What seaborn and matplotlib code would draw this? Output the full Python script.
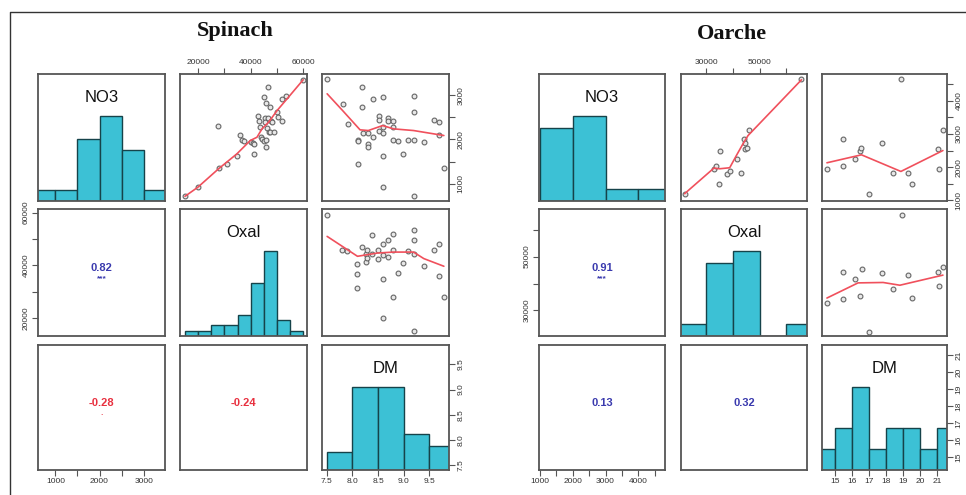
import numpy as np
import pandas as pd
import matplotlib
matplotlib.use("Agg")
import matplotlib.pyplot as plt
import seaborn as sns
from matplotlib.lines import Line2D

# ======================================
# Configuration
# ======================================

FIG_W = 966
FIG_H = 495
OUT_PATH = "out.png"

BAR = "#3CC1D5"
BAR_EDGE = "#16434A"
FRAME = "#555555"
POINT_FILL = "#e8e8e8"
POINT_EDGE = "#666666"
SMOOTH = "#F0505C"
POS_COLOR = "#3A3AAE"
NEG_COLOR = "#E8303F"
TICK_COLOR = "#333333"

VAR_NAMES = ["NO3", "Oxal", "DM"]

# panel boxes in pixels (x0, x1) / (y0, y1)
ROWS_Y = [(74, 201), (209, 336), (345, 470)]
SPINACH_COLS_X = [(38, 165), (180, 307), (322, 449)]
OARCHE_COLS_X = [(539, 665), (681, 807), (822, 947)]


# ======================================
# Spinach data
# ======================================

sp_no3_bins = [500, 1000, 1500, 2000, 2500, 3000, 3500]
sp_no3_counts = [2, 2, 11, 15, 9, 2]
sp_oxal_bins = [15000, 20000, 25000, 30000, 35000, 40000, 45000, 50000, 55000, 60000]
sp_oxal_counts = [1, 1, 2, 2, 4, 10, 16, 3, 1]
sp_dm_bins = [7.5, 8.0, 8.5, 9.0, 9.5, 10.0]
sp_dm_counts = [3, 14, 14, 6, 4]

sp_oxal_no3_x = [15050, 19900, 27740, 28100, 31160, 34740, 36000, 36650, 37260, 40080,
                 40700, 41340, 41340, 42750, 43240, 43620, 44000, 44270, 44880, 45150,
                 45260, 45530, 45800, 45910, 45910, 46170, 46400, 46670, 46790, 47430,
                 47700, 47430, 48700, 48080, 50000, 50370, 51900, 52000, 53400, 59900]
sp_oxal_no3_y = [727, 916, 2300, 1347, 1447, 1636, 2112, 1992, 1960, 1953,
                 1923, 1674, 1901, 2537, 2414, 2278, 2055, 2000, 1976, 2960,
                 2490, 2396, 1840, 2830, 1992, 2264, 2490, 3186, 2165, 2740,
                 2430, 2165, 2165, 2396, 2623, 2510, 2430, 2923, 2982, 3354]
sp_oxal_no3_fit_x = [15050, 19900, 27740, 34740, 39810, 42360, 44270, 46790, 50000, 53800, 59900]
sp_oxal_no3_fit_y = [712, 916, 1333, 1674, 1976, 2051, 2241, 2392, 2657, 2923, 3354]

sp_dm_no3_x = [7.51, 7.81, 7.91, 8.11, 8.11, 8.11, 8.19, 8.19, 8.20, 8.30,
               8.30, 8.31, 8.40, 8.41, 8.51, 8.51, 8.51, 8.59, 8.59, 8.59,
               8.59, 8.59, 8.69, 8.70, 8.80, 8.80, 8.80, 8.89, 8.98, 9.09,
               9.19, 9.19, 9.19, 9.19, 9.39, 9.58, 9.68, 9.68, 9.78]
sp_dm_no3_y = [3361, 2809, 2355, 1999, 1960, 1447, 3186, 2732, 2150, 1901,
               1824, 2150, 2055, 2907, 2528, 2453, 2188, 2963, 2294, 2150,
               1636, 916, 2483, 2408, 2430, 2294, 1992, 1960, 1674, 1999,
               2982, 2634, 1992, 727, 1953, 2445, 2396, 2108, 1347]
sp_dm_no3_fit_x = [7.51, 7.81, 8.15, 8.31, 8.59, 8.80, 9.19, 9.78]
sp_dm_no3_fit_y = [3036, 2657, 2219, 2203, 2316, 2241, 2203, 2090]

sp_dm_oxal_x = [7.51, 7.80, 7.89, 8.10, 8.10, 8.10, 8.19, 8.27, 8.27, 8.29,
                8.29, 8.39, 8.39, 8.49, 8.50, 8.59, 8.59, 8.59, 8.59, 8.69,
                8.69, 8.80, 8.80, 8.80, 8.89, 8.99, 9.09, 9.19, 9.19, 9.19,
                9.19, 9.39, 9.58, 9.68, 9.68, 9.78]
sp_dm_oxal_y = [59250, 45660, 45280, 40640, 36600, 31200, 46910, 44420, 41250, 45660,
                42760, 51320, 44420, 45930, 42530, 48190, 43780, 34600, 20110, 49700,
                43130, 51700, 45930, 27810, 37100, 40870, 45400, 53200, 49700, 44420,
                15200, 39620, 45660, 47930, 35850, 28040]
sp_dm_oxal_fit_x = [7.51, 8.10, 8.49, 8.80, 9.19, 9.39, 9.78]
sp_dm_oxal_fit_y = [50950, 43400, 44640, 45000, 45000, 42530, 39620]

sp_cor = [0.82, -0.28, -0.24]
sp_stars = ["***", ".", ""]


# ======================================
# Oarche data
# ======================================

oa_no3_bins = [1000, 2000, 3000, 4000, 5000]
oa_no3_counts = [6, 7, 1, 1]
oa_oxal_bins = [20000, 30000, 40000, 50000, 60000, 70000]
oa_oxal_counts = [1, 6, 7, 0, 1]
oa_dm_bins = [14, 15, 16, 17, 18, 19, 20, 21, 22]
oa_dm_counts = [1, 2, 4, 1, 2, 2, 1, 2]

oa_oxal_no3_x = [21860, 32850, 33750, 34610, 35250, 37720, 38740, 41470, 43120, 43990,
                 44360, 45230, 44360, 45860, 65620]
oa_oxal_no3_y = [1180, 1951, 2020, 1501, 2500, 1801, 1870, 2230, 1822, 2851,
                 2551, 2572, 2722, 3121, 4651]
oa_oxal_no3_fit_x = [21860, 32850, 34990, 38740, 41250, 43500, 45600, 65620]
oa_oxal_no3_fit_y = [1201, 1972, 1951, 1981, 2350, 2671, 2950, 4630]

oa_dm_no3_x = [14.55, 15.49, 15.49, 16.22, 16.47, 16.57, 17.00, 17.78, 18.43, 18.88,
               19.28, 19.55, 21.04, 21.14, 21.34]
oa_dm_no3_y = [1951, 2851, 2031, 2230, 2500, 2572, 1180, 2722, 1822, 4651,
               1822, 1501, 2551, 1930, 3121]
oa_dm_no3_fit_x = [14.55, 16.57, 18.88, 21.34]
oa_dm_no3_fit_y = [2131, 2371, 1870, 2500]

oa_dm_oxal_x = [14.55, 15.49, 15.49, 16.22, 16.51, 16.61, 17.00, 17.78, 18.43, 18.92,
                19.28, 19.55, 21.04, 21.14, 21.34]
oa_dm_oxal_y = [32740, 44360, 34120, 41620, 35250, 45370, 22130, 43990, 37870, 65620,
                43120, 34750, 44360, 39000, 46000]
oa_dm_oxal_fit_x = [14.55, 16.37, 17.84, 18.82, 21.34]
oa_dm_oxal_fit_y = [34610, 40240, 40390, 39370, 43120]

oa_cor = [0.91, 0.13, 0.32]
oa_stars = ["***", "", ""]


# ======================================
# Helpers
# ======================================

def add_panel(fig, box_x, box_y):

    x0, x1 = box_x
    y0, y1 = box_y

    ax = fig.add_axes([
        x0 / FIG_W,
        1 - y1 / FIG_H,
        (x1 - x0) / FIG_W,
        (y1 - y0) / FIG_H
    ])

    for spine in ax.spines.values():
        spine.set_color(FRAME)
        spine.set_linewidth(1.3)
        spine.set_zorder(5)

    return ax


def clear_ticks(ax):
    ax.set_xlabel("")
    ax.set_ylabel("")
    ax.set_xticks([])
    ax.set_yticks([])


def set_side_axis(ax, side, ticks, labels):

    common = dict(
        length=4,
        width=0.8,
        pad=2,
        labelsize=6,
        color=FRAME,
        labelcolor=TICK_COLOR
    )

    if side in ("top", "bottom"):
        ax.set_xticks(ticks)
        ax.set_xticklabels(labels)
        ax.tick_params(
            axis="x",
            top=(side == "top"),
            labeltop=(side == "top"),
            bottom=(side == "bottom"),
            labelbottom=(side == "bottom"),
            **common
        )
    else:
        ax.set_yticks(ticks)
        ax.set_yticklabels(labels, rotation=90, va="center")
        ax.tick_params(
            axis="y",
            left=(side == "left"),
            labelleft=(side == "left"),
            right=(side == "right"),
            labelright=(side == "right"),
            **common
        )


def draw_hist(ax, bins, counts, lim, name):

    edges = [float(b) for b in bins]
    top = max(counts)
    hist_df = pd.DataFrame({
        "mid": [(a + b) / 2 for a, b in zip(edges[:-1], edges[1:])],
        "height": [c / top for c in counts]
    })

    sns.histplot(
        data=hist_df,
        x="mid",
        weights="height",
        bins=edges,
        color=BAR,
        edgecolor=BAR_EDGE,
        linewidth=1,
        alpha=1,
        ax=ax
    )

    ax.set_xlim(lim)
    ax.set_ylim(0, 1.5)
    clear_ticks(ax)

    ax.text(
        0.5, 0.815, name,
        transform=ax.transAxes,
        ha="center", va="center",
        fontsize=12, color="#111111"
    )


def draw_smooth(ax, x, y, fx, fy, xlim, ylim):

    sns.scatterplot(
        x=x, y=y,
        marker="o",
        s=12,
        color=POINT_FILL,
        edgecolor=POINT_EDGE,
        linewidth=0.8,
        ax=ax,
        zorder=3
    )

    sns.lineplot(
        x=fx, y=fy,
        sort=False,
        estimator=None,
        color=SMOOTH,
        linewidth=1.2,
        ax=ax,
        zorder=4
    )

    ax.set_xlim(xlim)
    ax.set_ylim(ylim)
    clear_ticks(ax)


def draw_cor(ax, value, stars):

    color = POS_COLOR if value > 0 else NEG_COLOR

    ax.text(
        0.5, 0.535, f"{value:.2f}",
        transform=ax.transAxes,
        ha="center", va="center",
        fontsize=8, fontweight="bold", color=color
    )

    if stars:
        ax.text(
            0.5, 0.45, stars,
            transform=ax.transAxes,
            ha="center", va="center",
            fontsize=6, fontweight="bold", color=color
        )

    clear_ticks(ax)


# ======================================
# One pairs matrix
# ======================================

def draw_group(fig, cols_x, title, title_xy, g):

    axes = [[add_panel(fig, cols_x[j], ROWS_Y[i]) for j in range(3)] for i in range(3)]

    lim_no3, lim_oxal, lim_dm = g["lims"]

    # diagonal
    draw_hist(axes[0][0], g["no3_bins"], g["no3_counts"], lim_no3, VAR_NAMES[0])
    draw_hist(axes[1][1], g["oxal_bins"], g["oxal_counts"], lim_oxal, VAR_NAMES[1])
    draw_hist(axes[2][2], g["dm_bins"], g["dm_counts"], lim_dm, VAR_NAMES[2])

    # upper panels
    draw_smooth(axes[0][1], *g["oxal_no3"], lim_oxal, lim_no3)
    draw_smooth(axes[0][2], *g["dm_no3"], lim_dm, lim_no3)
    draw_smooth(axes[1][2], *g["dm_oxal"], lim_dm, lim_oxal)

    # lower panels
    draw_cor(axes[1][0], g["cor"][0], g["stars"][0])
    draw_cor(axes[2][0], g["cor"][1], g["stars"][1])
    draw_cor(axes[2][1], g["cor"][2], g["stars"][2])
    axes[1][0].set_ylim(lim_oxal)
    axes[2][0].set_xlim(lim_no3)

    # outer axes
    set_side_axis(axes[0][1], "top", *g["oxal_ticks"])
    set_side_axis(axes[0][2], "right", *g["no3_ticks"])
    set_side_axis(axes[1][0], "left", *g["oxal_ticks"])
    set_side_axis(axes[2][0], "bottom", *g["no3_ticks"])
    set_side_axis(axes[2][2], "bottom", *g["dm_ticks"])

    # DM right axis lives in DM units, not in the histogram's 0..1.5 scale
    dm_right = axes[2][2].twinx()
    dm_right.set_ylim(lim_dm)
    for spine in dm_right.spines.values():
        spine.set_visible(False)
    set_side_axis(dm_right, "right", *g["dm_ticks"])

    fig.text(
        title_xy[0] / FIG_W,
        1 - title_xy[1] / FIG_H,
        title,
        ha="center", va="center",
        family=["Liberation Serif", "DejaVu Serif"],
        fontweight="bold",
        fontsize=16,
        color="#111111"
    )


def tick_set(ticks, labelled):
    labels = [f"{t:g}" if t in labelled else "" for t in ticks]
    return ticks, labels


# ======================================
# Main Function
# ======================================

def main():

    sns.set_style("white")
    plt.rcParams["font.family"] = ["Liberation Sans", "DejaVu Sans"]

    fig = plt.figure(
        figsize=(FIG_W / 100, FIG_H / 100),
        dpi=100
    )

    spinach = {
        "lims": [(605, 3485), (13150, 61350), (7.41, 9.88)],
        "no3_bins": sp_no3_bins, "no3_counts": sp_no3_counts,
        "oxal_bins": sp_oxal_bins, "oxal_counts": sp_oxal_counts,
        "dm_bins": sp_dm_bins, "dm_counts": sp_dm_counts,
        "oxal_no3": (sp_oxal_no3_x, sp_oxal_no3_y, sp_oxal_no3_fit_x, sp_oxal_no3_fit_y),
        "dm_no3": (sp_dm_no3_x, sp_dm_no3_y, sp_dm_no3_fit_x, sp_dm_no3_fit_y),
        "dm_oxal": (sp_dm_oxal_x, sp_dm_oxal_y, sp_dm_oxal_fit_x, sp_dm_oxal_fit_y),
        "cor": sp_cor, "stars": sp_stars,
        "no3_ticks": tick_set([1000, 1500, 2000, 2500, 3000], [1000, 2000, 3000]),
        "oxal_ticks": tick_set([20000, 30000, 40000, 50000, 60000], [20000, 40000, 60000]),
        "dm_ticks": ([7.5, 8.0, 8.5, 9.0, 9.5], ["7.5", "8.0", "8.5", "9.0", "9.5"]),
    }

    oarche = {
        "lims": [(980, 4805), (20500, 67700), (14.26, 21.58)],
        "no3_bins": oa_no3_bins, "no3_counts": oa_no3_counts,
        "oxal_bins": oa_oxal_bins, "oxal_counts": oa_oxal_counts,
        "dm_bins": oa_dm_bins, "dm_counts": oa_dm_counts,
        "oxal_no3": (oa_oxal_no3_x, oa_oxal_no3_y, oa_oxal_no3_fit_x, oa_oxal_no3_fit_y),
        "dm_no3": (oa_dm_no3_x, oa_dm_no3_y, oa_dm_no3_fit_x, oa_dm_no3_fit_y),
        "dm_oxal": (oa_dm_oxal_x, oa_dm_oxal_y, oa_dm_oxal_fit_x, oa_dm_oxal_fit_y),
        "cor": oa_cor, "stars": oa_stars,
        "no3_ticks": tick_set([1000, 1500, 2000, 2500, 3000, 3500, 4000, 4500],
                              [1000, 2000, 3000, 4000]),
        "oxal_ticks": tick_set([30000, 40000, 50000, 60000], [30000, 50000]),
        "dm_ticks": tick_set([15, 16, 17, 18, 19, 20, 21], [15, 16, 17, 18, 19, 20, 21]),
    }

    draw_group(fig, SPINACH_COLS_X, "Spinach", (235, 31), spinach)
    draw_group(fig, OARCHE_COLS_X, "Oarche", (732, 34), oarche)

    # outer frame of the figure (left and top edges)
    fig.add_artist(Line2D(
        [10 / FIG_W, 10 / FIG_W, 1.0],
        [0.0, 1 - 12 / FIG_H, 1 - 12 / FIG_H],
        transform=fig.transFigure,
        color="#333333",
        linewidth=1
    ))

    fig.savefig(OUT_PATH, dpi=100)
    plt.close(fig)


if __name__ == "__main__":
    main()
